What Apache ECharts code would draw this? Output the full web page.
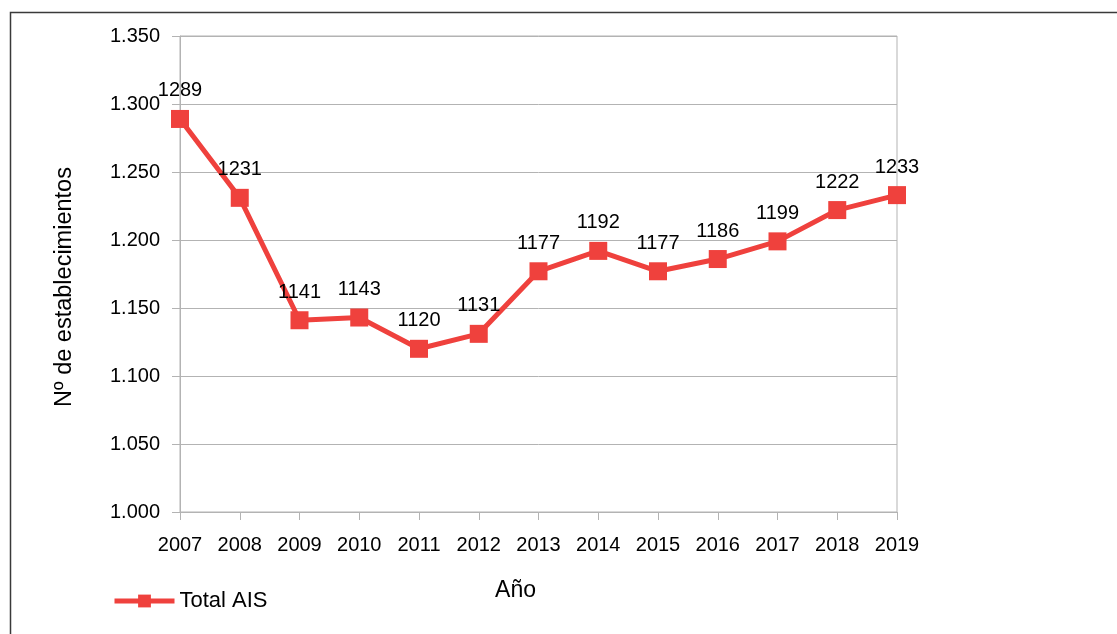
<!DOCTYPE html>
<html>
<head>
<meta charset="utf-8">
<script src="https://cdn.jsdelivr.net/npm/echarts@6/dist/echarts.min.js"></script>
<style>
  html, body { margin: 0; padding: 0; background: #fff; }
  #grafico { width: 1117px; height: 634px; }
</style>
</head>
<body>
<div id="grafico"></div>
<script>
const anios = ["2007", "2008", "2009", "2010", "2011", "2012", "2013", "2014", "2015", "2016", "2017", "2018", "2019"];
const totalAIS = [1289, 1231, 1141, 1143, 1120, 1131, 1177, 1192, 1177, 1186, 1199, 1222, 1233];
const ejeMin = 1000;
const ejeMax = 1350;
const ejePaso = 50;

// formato con punto de miles: 1350 -> "1.350"
function miles(v) {
  return Math.floor(v / 1000) + "." + String(v % 1000).padStart(3, "0");
}

const chartDom = document.getElementById("grafico");
const myChart = echarts.init(chartDom);
const fuente = "Liberation Sans, Arial, sans-serif";
const rojo = "#ef413d";

const option = {
  animation: false,
  textStyle: { fontFamily: fuente },
  graphic: [
    {
      type: "rect",
      left: 8, top: 10,
      shape: { width: 1200, height: 700 },
      style: { fill: "none", stroke: "#3a3a3a", lineWidth: 1.5 },
      silent: true
    }
  ],
  grid: {
    left: 180, right: 220, top: 36, bottom: 122,
    show: true, borderColor: "#b3b3b3", borderWidth: 1
  },
  legend: {
    left: 107, top: 585,
    itemWidth: 60, itemHeight: 16,
    lineStyle: { width: 5 },
    textStyle: { fontSize: 22, color: "#000", fontFamily: fuente },
    data: ["Total AIS"]
  },
  xAxis: {
    type: "category",
    data: anios,
    boundaryGap: false,
    name: "Año",
    nameLocation: "middle",
    nameGap: 67,
    nameTextStyle: { fontSize: 23, color: "#000", padding: [0, 46, 0, 0] },
    axisLine: { lineStyle: { color: "#b3b3b3" } },
    axisTick: { length: 8, alignWithLabel: true, lineStyle: { color: "#b3b3b3" } },
    axisLabel: { fontSize: 20, color: "#000", margin: 23 },
    splitLine: { show: false }
  },
  yAxis: {
    type: "value",
    min: ejeMin, max: ejeMax, interval: ejePaso,
    name: "Nº de establecimientos",
    nameLocation: "middle",
    nameGap: 103,
    nameTextStyle: { fontSize: 23.5, color: "#000", padding: [0, 26, 0, 0] },
    axisLine: { show: true, lineStyle: { color: "#b3b3b3" } },
    axisTick: { show: true, length: 8, lineStyle: { color: "#b3b3b3" } },
    axisLabel: { fontSize: 20, color: "#000", margin: 20, formatter: miles },
    splitLine: { lineStyle: { color: "#b3b3b3" } }
  },
  series: [
    {
      name: "Total AIS",
      type: "line",
      data: totalAIS,
      symbol: "rect",
      symbolSize: 18,
      itemStyle: { color: rojo },
      lineStyle: { color: rojo, width: 5 },
      label: {
        show: true, position: "top", distance: 9,
        fontSize: 20, color: "#000", fontFamily: fuente
      }
    }
  ]
};

myChart.setOption(option);
</script>
</body>
</html>
